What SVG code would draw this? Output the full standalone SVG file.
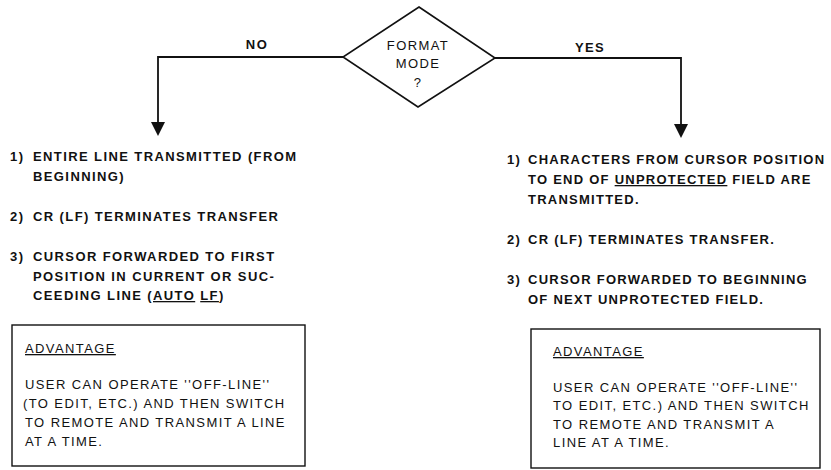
<svg xmlns="http://www.w3.org/2000/svg" width="831" height="470" viewBox="0 0 831 470">
<style>
.b{font-family:"Liberation Sans",Arial,sans-serif;font-weight:bold;font-size:13px;letter-spacing:1.4px;fill:#111}
.bs{letter-spacing:1.25px}
.r{font-family:"Liberation Sans",Arial,sans-serif;font-size:13px;letter-spacing:1.4px;fill:#111}
.u{text-decoration:underline}
.shape{fill:#fff;stroke:#111;stroke-width:1.6}
.box{fill:none;stroke:#111;stroke-width:1.4}
.conn{fill:none;stroke:#111;stroke-width:1.8}
.head{fill:#111}
</style>
<rect width="831" height="470" fill="#fff"/>
<g id="connectors">
<path class="conn" d="M345,57 H158 V124"/>
<path class="conn" d="M495,58 H681 V126"/>
<polygon class="head" points="151,122 165,122 158,136"/>
<polygon class="head" points="674,124 688,124 681,138"/>
<text class="b" x="257" y="49" text-anchor="middle">NO</text>
<text class="b" x="590" y="52" text-anchor="middle">YES</text>
</g>
<g id="decision">
<polygon class="shape" points="419,7 495,58 418,107 343,57"/>
<text class="r" x="418" y="50" text-anchor="middle">FORMAT</text>
<text class="r" x="418" y="68" text-anchor="middle">MODE</text>
<text class="r" x="418" y="87" text-anchor="middle">?</text>
</g>
<g id="no-steps">
<text class="b" x="10" y="161">1)</text>
<text class="b" x="33" y="161">ENTIRE LINE TRANSMITTED (FROM</text>
<text class="b" x="33" y="181">BEGINNING)</text>
<text class="b" x="10" y="221">2)</text>
<text class="b" x="33" y="221">CR (LF) TERMINATES TRANSFER</text>
<text class="b" x="10" y="261">3)</text>
<text class="b" x="33" y="261">CURSOR FORWARDED TO FIRST</text>
<text class="b" x="33" y="281">POSITION IN CURRENT OR SUC-</text>
<text class="b" x="33" y="300">CEEDING LINE (<tspan class="u">AUTO</tspan> <tspan class="u">LF</tspan>)</text>
</g>
<g id="no-advantage">
<rect class="box" x="12" y="325" width="293" height="141"/>
<text class="r u" x="25" y="353">ADVANTAGE</text>
<text class="r" x="25" y="389">USER CAN OPERATE ''OFF-LINE''</text>
<text class="r" x="23" y="408">(TO EDIT, ETC.) AND THEN SWITCH</text>
<text class="r" x="25" y="427">TO REMOTE AND TRANSMIT A LINE</text>
<text class="r" x="25" y="446">AT A TIME.</text>
</g>
<g id="yes-steps">
<text class="b bs" x="507" y="164">1)</text>
<text class="b bs" x="528" y="164">CHARACTERS FROM CURSOR POSITION</text>
<text class="b bs" x="528" y="184">TO END OF <tspan class="u">UNPROTECTED</tspan> FIELD ARE</text>
<text class="b bs" x="528" y="204">TRANSMITTED.</text>
<text class="b bs" x="507" y="244">2)</text>
<text class="b bs" x="528" y="244">CR (LF) TERMINATES TRANSFER.</text>
<text class="b bs" x="507" y="284">3)</text>
<text class="b bs" x="528" y="284">CURSOR FORWARDED TO BEGINNING</text>
<text class="b bs" x="528" y="304">OF NEXT UNPROTECTED FIELD.</text>
</g>
<g id="yes-advantage">
<rect class="box" x="531" y="329" width="289" height="139"/>
<text class="r u" x="553" y="356">ADVANTAGE</text>
<text class="r" x="553" y="392">USER CAN OPERATE ''OFF-LINE''</text>
<text class="r" x="553" y="410">TO EDIT, ETC.) AND THEN SWITCH</text>
<text class="r" x="553" y="429">TO REMOTE AND TRANSMIT A</text>
<text class="r" x="553" y="447">LINE AT A TIME.</text>
</g>
</svg>
